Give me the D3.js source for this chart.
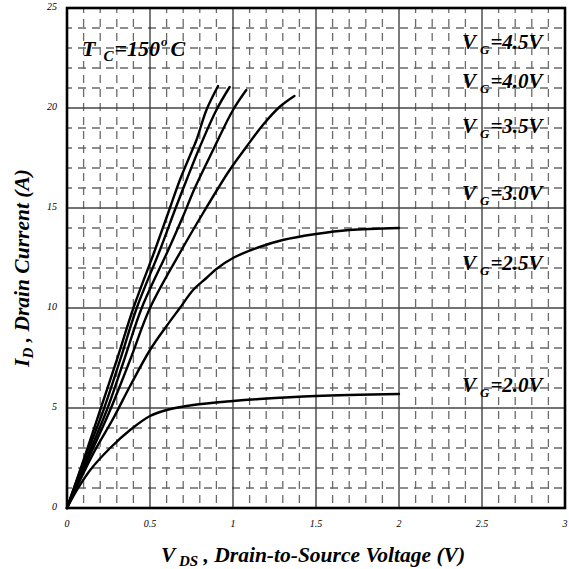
<!DOCTYPE html>
<html>
<head>
<meta charset="utf-8">
<script src="https://cdn.jsdelivr.net/npm/d3@7"></script>
<style>
  html, body { margin: 0; padding: 0; background: #fff; }
  svg { display: block; }
  text { font-family: "Liberation Serif", "Times New Roman", serif; font-style: italic; }
</style>
</head>
<body>
<svg id="chart" width="569" height="569"></svg>
<script>
// ---- data ----
const xTickValues = [0, 0.5, 1, 1.5, 2, 2.5, 3];
const xTickLabels = ["0", "0.5", "1", "1.5", "2", "2.5", "3"];
const yTickValues = [0, 5, 10, 15, 20, 25];
const yTickLabels = ["0", "5", "10", "15", "20", "25"];

const vg45 = [[0,0],[0.10,2.4],[0.20,4.9],[0.30,7.4],[0.40,10.0],[0.53,12.9],[0.62,15.0],[0.68,16.4],[0.75,17.8],[0.78,18.4],[0.84,19.9],[0.91,21.1]];
const vg40 = [[0,0],[0.10,2.3],[0.22,4.9],[0.32,7.4],[0.42,10.0],[0.56,12.9],[0.65,14.9],[0.72,16.4],[0.80,18.05],[0.90,19.9],[0.98,21.05]];
const vg35 = [[0,0],[0.10,2.1],[0.24,4.9],[0.34,7.3],[0.45,10.0],[0.61,12.9],[0.70,14.6],[0.77,16.0],[0.88,17.9],[1.00,19.9],[1.08,20.9]];
const vg30 = [[0,0],[0.12,2.3],[0.26,4.9],[0.38,7.4],[0.50,10.0],[0.69,12.9],[0.82,14.75],[0.98,16.9],[1.08,18.05],[1.18,19.15],[1.28,20.05],[1.37,20.6]];
const vg25 = [[0,0],[0.16,2.75],[0.28,4.5],[0.38,6.1],[0.50,7.9],[0.60,9.1],[0.68,10.0],[0.76,10.9],[0.84,11.5],[0.90,11.95],[1.00,12.5],[1.16,13.05],[1.30,13.4],[1.50,13.7],[1.70,13.9],[2.00,14.0]];
const vg20 = [[0,0],[0.06,0.9],[0.14,1.9],[0.26,3.0],[0.38,3.9],[0.50,4.6],[0.60,4.9],[0.76,5.15],[1.00,5.35],[1.16,5.45],[1.50,5.6],[2.00,5.7]];
const seriesList = [vg45, vg40, vg35, vg30, vg25, vg20];

const vgLabels = ["4.5", "4.0", "3.5", "3.0", "2.5", "2.0"];
const vgLabelY = [49, 88, 133, 200, 270, 392];

// ---- drawing ----
const svg = d3.select("#chart");
const x = d3.scaleLinear().domain([0, 3]).range([67, 565]);
const y = d3.scaleLinear().domain([0, 25]).range([508, 8]);

const grid = svg.append("g");
// minor dashed grid
const minorX = d3.range(1, 30).map(i => i / 10).filter(v => Math.abs(v * 2 - Math.round(v * 2)) > 1e-6);
const minorY = d3.range(1, 25).filter(v => v % 5 !== 0);
grid.selectAll(".mx").data(minorX).enter().append("line")
  .attr("x1", d => x(d)).attr("x2", d => x(d)).attr("y1", y(25)).attr("y2", y(0))
  .attr("stroke", "#6a6a6a").attr("stroke-width", 1.3).attr("stroke-dasharray", "8,6")
  .attr("stroke-dashoffset", 3);
grid.selectAll(".my").data(minorY).enter().append("line")
  .attr("x1", x(0)).attr("x2", x(3)).attr("y1", d => y(d)).attr("y2", d => y(d))
  .attr("stroke", "#6a6a6a").attr("stroke-width", 1.3).attr("stroke-dasharray", "8,6")
  .attr("stroke-dashoffset", 3);
// major solid grid
grid.selectAll(".Mx").data(xTickValues.slice(1, -1)).enter().append("line")
  .attr("x1", d => x(d)).attr("x2", d => x(d)).attr("y1", y(25)).attr("y2", y(0))
  .attr("stroke", "#222").attr("stroke-width", 1.2);
grid.selectAll(".My").data(yTickValues.slice(1, -1)).enter().append("line")
  .attr("x1", x(0)).attr("x2", x(3)).attr("y1", d => y(d)).attr("y2", d => y(d))
  .attr("stroke", "#444").attr("stroke-width", 1.6);

// frame
svg.append("rect").attr("x", x(0)).attr("y", y(25)).attr("width", x(3) - x(0)).attr("height", y(0) - y(25))
  .attr("fill", "none").attr("stroke", "#000").attr("stroke-width", 2.6);

// curves
const line = d3.line().x(d => x(d[0])).y(d => y(d[1])).curve(d3.curveCatmullRom.alpha(0.5));
svg.selectAll(".curve").data(seriesList).enter().append("path")
  .attr("d", line).attr("fill", "none").attr("stroke", "#000").attr("stroke-width", 2.4)
  .attr("stroke-linejoin", "round").attr("stroke-linecap", "round");

// tick labels
svg.selectAll(".xt").data(xTickValues).enter().append("text")
  .attr("x", d => x(d)).attr("y", 527).attr("text-anchor", "middle")
  .attr("font-size", 10).text((d, i) => xTickLabels[i]);
svg.selectAll(".yt").data(yTickValues).enter().append("text")
  .attr("x", 57).attr("y", d => y(d) + 2).attr("text-anchor", "end")
  .attr("font-size", 10).text((d, i) => yTickLabels[i]);

// axis titles
const xt = svg.append("text").attr("x", 313).attr("y", 562).attr("text-anchor", "middle")
  .attr("font-size", 21.5).attr("font-weight", "bold");
xt.append("tspan").text("V");
xt.append("tspan").attr("font-size", 15).attr("dy", 4).text(" DS");
xt.append("tspan").attr("dy", -4).text(" , Drain-to-Source Voltage (V)");

const yt = svg.append("text").attr("transform", "translate(29,268) rotate(-90)").attr("text-anchor", "middle")
  .attr("font-size", 21.5).attr("font-weight", "bold");
yt.append("tspan").text("I");
yt.append("tspan").attr("font-size", 15).attr("dy", 4).text("D");
yt.append("tspan").attr("dy", -4).text(" , Drain Current (A)");

// annotations
const tc = svg.append("text").attr("x", 82).attr("y", 56).attr("font-size", 22).attr("font-weight", "bold");
tc.append("tspan").text("T");
tc.append("tspan").attr("font-size", 15).attr("dy", 5).attr("dx", 8).text("C");
tc.append("tspan").attr("dy", -5).attr("dx", 1).text("=150");
tc.append("tspan").attr("font-size", 13).attr("dy", -10).attr("dx", 1).text("o");
tc.append("tspan").attr("dy", 10).attr("dx", 3).text("C");

vgLabels.forEach((v, i) => {
  const t = svg.append("text").attr("x", 462).attr("y", vgLabelY[i]).attr("font-size", 21).attr("font-weight", "bold");
  t.append("tspan").text("V");
  t.append("tspan").attr("font-size", 13).attr("dy", 5).attr("dx", 4).text("G");
  t.append("tspan").attr("dy", -5).attr("dx", 1).text("=" + v + "V");
});
</script>
</body>
</html>
